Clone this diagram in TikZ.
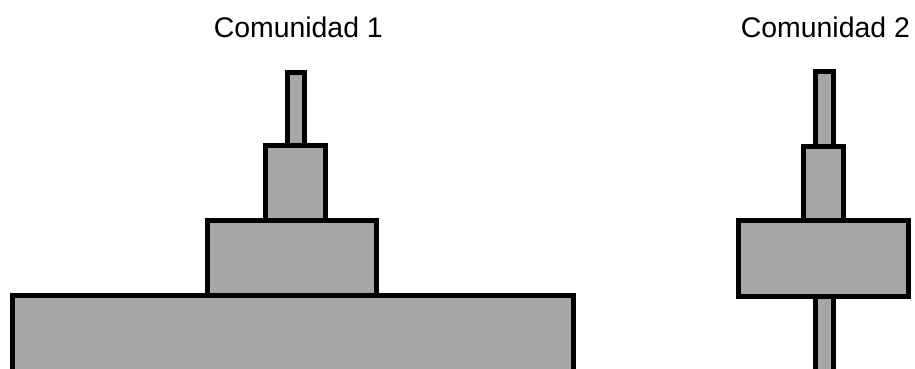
\documentclass[tikz,border=0pt]{standalone}
\usepackage{fontspec}
\setmainfont{Liberation Sans}
\definecolor{fillgray}{RGB}{166,166,166}
\begin{document}
\begin{tikzpicture}[x=1pt,y=-1pt,
  blk/.style={draw=black, fill=fillgray, line width=5pt, line join=miter},
  lbl/.style={font=\fontsize{28.4}{34}\selectfont, anchor=base, inner sep=0pt}]
\useasboundingbox (0,0) rectangle (915,369);
\clip (0,0) rectangle (915,369);
% Comunidad 1
\node[lbl] (t1) at (298.3,37.3) {Comunidad 1};
\draw[blk] (287.8,72.5) rectangle (304.8,145.8);
\draw[blk] (265.8,145.8) rectangle (325.5,220.5);
\draw[blk] (207.2,220.5) rectangle (376.8,295.5);
\draw[blk] (12.6,295.5) rectangle (573.5,380);
% Comunidad 2
\node[lbl] (t2) at (825.4,37.3) {Comunidad 2};
\draw[blk] (815.8,71.5) rectangle (833.5,146.5);
\draw[blk] (803.5,146.5) rectangle (843.5,220.8);
\draw[blk] (815.8,296.2) rectangle (833.5,380);
\draw[blk] (738.5,220.8) rectangle (908,296.2);
\end{tikzpicture}
\end{document}
